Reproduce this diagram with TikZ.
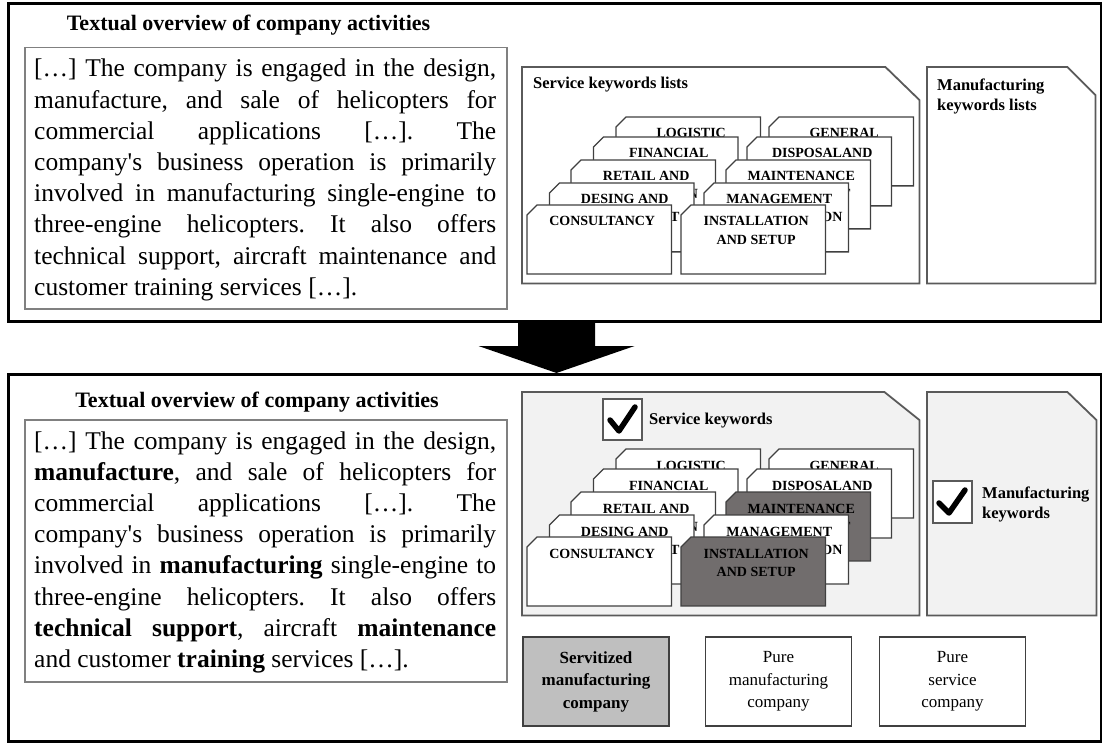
\documentclass[tikz,border=0pt]{standalone}
\usepackage{fontspec}
\setmainfont{Liberation Serif}
\usetikzlibrary{calc}
\definecolor{boxgray}{HTML}{808080}
\definecolor{docgray}{HTML}{5A5A5A}
\definecolor{cardgray}{HTML}{404040}
\definecolor{panelfill}{HTML}{F2F2F2}
\definecolor{darkcard}{HTML}{716D6D}
\definecolor{servfill}{HTML}{BFBFBF}
\tolerance=10000 \hbadness=10000 \hyphenpenalty=10000 \frenchspacing
\tikzset{
  frame/.style={draw=black, line width=3pt, rectangle, inner sep=0pt},
  txtbox/.style={draw=boxgray, line width=1.5pt, rectangle, inner sep=0pt},
  bodytext/.style={text width=462pt, align=justify, inner sep=0pt, font=\fontsize{25.5}{31.2}\selectfont},
  titletext/.style={inner sep=0pt, font=\fontsize{22}{26}\selectfont\bfseries},
  doctitle/.style={inner sep=0pt, font=\fontsize{16.5}{20}\selectfont\bfseries},
  docline/.style={draw=docgray, line width=1.8pt, line join=miter},
  cardbase/.style={rectangle, inner sep=0pt, minimum width=144pt, minimum height=68.5pt},
  cardline/.style={draw=cardgray, line width=1.3pt},
  cardtext/.style={inner sep=0pt, font=\fontsize{14}{17}\selectfont\bfseries},
  chkbox/.style={draw=docgray, line width=1.5pt, fill=white, rectangle, inner sep=0pt},
  checkmark/.style={draw=black, line width=5.5pt, line cap=round, line join=round},
  labelbox/.style={draw=cardgray, line width=1.3pt, rectangle, align=center, inner sep=0pt,
    minimum width=146pt, minimum height=89pt, font=\fontsize{17}{22.5}\selectfont},
}
\newcommand\mycard[6]{%
  \node[cardbase, anchor=north west] (#1) at (#2,#3) {};
  \filldraw[cardline, fill=#4] ($(#1.north west)+(0,10)$) -- ($(#1.north west)+(10,0)$)
    -- (#1.north east) -- (#1.south east) -- (#1.south west) -- cycle;
  \node[cardtext, anchor=base] (#1-a) at ($(#1.north)+(3,21)$) {#5};
  \if\relax\detokenize{#6}\relax\else
    \node[cardtext, anchor=base] (#1-b) at ($(#1.north)+(3,39)$) {#6};\fi
}
\newcommand\docbox[4]{%
  \filldraw[docline, fill=#4] (#1.north west) -- ($(#1.north east)+(-#2,0)$)
    -- ($(#1.north east)+(0,#3)$) -- (#1.south east) -- (#1.south west) -- cycle;
}
\newcommand\cardset[3]{% prefix, y offset, dark fill
  \mycard{#1a}{616}{117+#2}{white}{LOGISTIC}{}
  \mycard{#1b}{769}{117+#2}{white}{GENERAL}{}
  \mycard{#1c}{593.5}{137+#2}{white}{FINANCIAL}{}
  \mycard{#1d}{747}{137+#2}{white}{DISPOSALAND}{}
  \mycard{#1e}{571}{160+#2}{white}{RETAIL AND}{DISTRIBUTION}
  \mycard{#1f}{726}{160+#2}{#3}{MAINTENANCE}{AND SUPPORT}
  \mycard{#1g}{549.5}{183+#2}{white}{DESING AND}{DEVELOPMENT}
  \mycard{#1h}{704}{183+#2}{white}{MANAGEMENT}{ADMINISTRATION}
  \mycard{#1i}{527}{205+#2}{white}{CONSULTANCY}{}
  \mycard{#1j}{681}{205+#2}{#3}{INSTALLATION}{AND SETUP}
}
\begin{document}
\begin{tikzpicture}[x=1pt, y=-1pt]
\fill[white] (0,0) rectangle (1102,743);
\useasboundingbox (0,0) rectangle (1102,743);

% frames
\node[frame, anchor=north west, minimum width=1093.5pt, minimum height=317.5pt] (topframe) at (6.5,2.5) {};
\node[frame, anchor=north west, minimum width=1093.5pt, minimum height=367pt] (botframe) at (6.5,373) {};

% block arrow between the panels
\coordinate (ar0) at ($(topframe.south)+(1.75,0)$);
\coordinate (artip) at (botframe.north -| ar0);
\fill[black] ($(ar0)+(-38.5,0)$) -- ($(ar0)+(38.5,0)$) -- ($(ar0)+(38.5,23)$) -- ($(ar0)+(78,23)$)
  -- (artip) -- ($(ar0)+(-78,23)$) -- ($(ar0)+(-38.5,23)$) -- cycle;

% ---------- top panel ----------
\node[titletext, anchor=base] (title1) at (248.5,31) {Textual overview of company activities};
\node[txtbox, anchor=north west, minimum width=482pt, minimum height=261pt] (tb1) at (24,47) {};
\node[bodytext, anchor=base west] (body1) at (34,77) {[…] The company is engaged in the design,\linebreak
manufacture, and sale of helicopters for\linebreak
commercial applications […]. The\linebreak
company\textquotesingle s business operation is primarily\linebreak
involved in manufacturing single-engine to\linebreak
three-engine helicopters. It also offers\linebreak
technical support, aircraft maintenance and\linebreak
customer training services […].};

\node[rectangle, inner sep=0pt, anchor=north west, minimum width=397pt, minimum height=216pt] (svc1) at (522,67) {};
\docbox{svc1}{34}{33}{white}
\node[doctitle, anchor=base west] (svc1t) at (533,89) {Service keywords lists};
\cardset{t}{0}{white}

\node[rectangle, inner sep=0pt, anchor=north west, minimum width=168pt, minimum height=216pt] (mfg1) at (927,67) {};
\docbox{mfg1}{28}{28}{white}
\node[doctitle, anchor=base west] (mfg1a) at (937,91) {Manufacturing};
\node[doctitle, anchor=base west] (mfg1b) at (937,111) {keywords lists};

% ---------- bottom panel ----------
\node[titletext, anchor=base] (title2) at (257,407) {Textual overview of company activities};
\node[txtbox, anchor=north west, minimum width=482pt, minimum height=262pt] (tb2) at (24,419) {};
\node[bodytext, anchor=base west] (body2) at (34,449) {[…] The company is engaged in the design,\linebreak
\textbf{manufacture}, and sale of helicopters for\linebreak
commercial applications […]. The\linebreak
company\textquotesingle s business operation is primarily\linebreak
involved in \textbf{manufacturing} single-engine to\linebreak
three-engine helicopters. It also offers\linebreak
\textbf{technical support}, aircraft \textbf{maintenance}\linebreak
and customer \textbf{training} services […].};

\node[rectangle, inner sep=0pt, anchor=north west, minimum width=397pt, minimum height=223pt] (svc2) at (522,392) {};
\docbox{svc2}{35}{28}{panelfill}
\node[chkbox, anchor=north west, minimum width=39pt, minimum height=41pt] (ck1) at (602,398) {};
\draw[checkmark] ($(ck1.north west)+(8,22)$) -- ($(ck1.north west)+(17,33)$) -- ($(ck1.north west)+(33,9)$);
\node[doctitle, anchor=base west] (svc2t) at (649,424) {Service keywords};
\cardset{b}{332}{darkcard}

\node[rectangle, inner sep=0pt, anchor=north west, minimum width=169pt, minimum height=223pt] (mfg2) at (927,392) {};
\docbox{mfg2}{29}{28}{panelfill}
\node[chkbox, anchor=north west, minimum width=39pt, minimum height=42pt] (ck2) at (932,480) {};
\draw[checkmark] ($(ck2.north west)+(7,23)$) -- ($(ck2.north west)+(17,33)$) -- ($(ck2.north west)+(33,10)$);
\node[doctitle, anchor=base west] (mfg2a) at (982,498) {Manufacturing};
\node[doctitle, anchor=base west] (mfg2b) at (982,518) {keywords};

% company type labels
\node[labelbox, fill=servfill, font=\fontsize{17}{22.5}\selectfont\bfseries] (lb1) at (596,681.5) {Servitized\\manufacturing\\company};
\node[labelbox, fill=white] (lb2) at (778.5,681.5) {Pure\\manufacturing\\company};
\node[labelbox, fill=white] (lb3) at (952.5,681.5) {Pure\\service\\company};
\end{tikzpicture}
\end{document}
